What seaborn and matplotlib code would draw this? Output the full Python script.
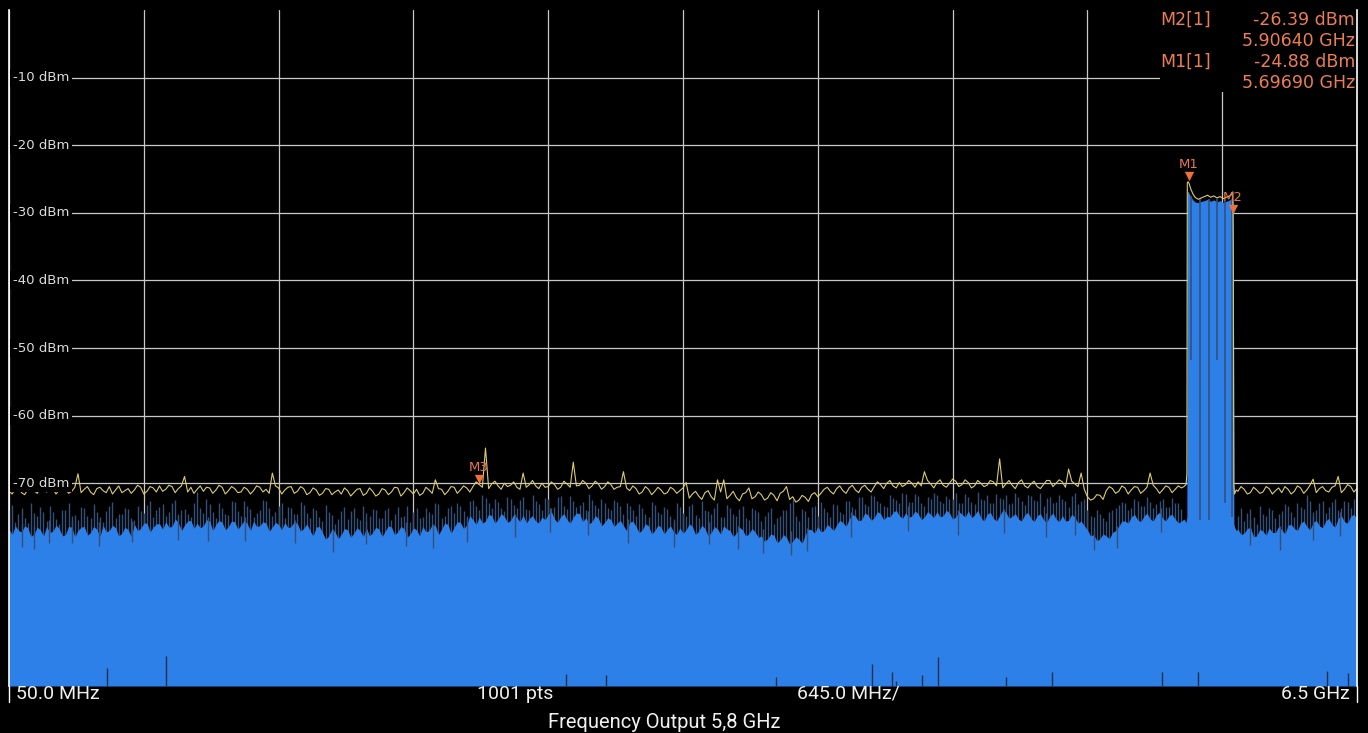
import numpy as np
import seaborn as sns
import matplotlib.pyplot as plt
from matplotlib.patches import Rectangle

# sweep grid (MHz): 30 MHz points plus the points half way between them,
# on both sides of the signal band
freq_left = np.linspace(50, 5660, 188)
freq_left_mid = np.linspace(65, 5645, 187)
freq_right = np.linspace(5930, 6500, 20)
freq_right_mid = np.linspace(5945, 6485, 19)

# yellow trace (dBm)
yellow_left = [
    -71.2, -70.8, -71.4, -70.9, -71.1, -70.6, -71.3, -70.9, -71.0, -70.7, -71.2, -68.6,
    -70.9, -71.3, -70.8, -71.1, -70.5, -71.0, -71.4, -70.8, -71.0, -70.6, -71.2, -70.7,
    -70.4, -70.9, -70.5, -70.8, -69.0, -70.6, -70.9, -71.2, -70.7, -71.0, -70.6, -71.1,
    -70.8, -71.3, -70.9, -71.1, -70.6, -70.9, -68.5, -70.7, -71.0, -70.5, -71.2, -70.8,
    -71.4, -71.0, -71.5, -70.9, -71.3, -71.6, -71.1, -71.4, -70.8, -71.5, -71.2, -71.6,
    -71.0, -71.3, -70.7, -71.4, -71.1, -70.9, -71.5, -71.0, -69.5, -70.9, -71.2, -70.6,
    -71.0, -70.7, -70.5, -70.2, -64.8, -70.1, -70.4, -70.0, -70.3, -70.6, -68.5, -70.2,
    -70.4, -70.0, -70.5, -70.2, -70.6, -70.1, -66.9, -70.3, -70.0, -70.4, -70.1, -70.5,
    -70.2, -70.6, -68.3, -71.1, -70.8, -71.3, -70.9, -71.2, -71.0, -71.4, -70.9, -71.1,
    -69.9, -71.6, -71.9, -71.4, -72.0, -69.5, -69.5, -71.8, -72.1, -71.6, -70.7, -72.0,
    -71.7, -72.2, -71.8, -71.5, -70.5, -72.0, -72.5, -72.1, -71.7, -72.0, -70.9, -71.2,
    -70.8, -71.1, -70.7, -71.0, -70.6, -70.9, -70.5, -70.2, -70.0, -70.4, -69.9, -70.2,
    -70.0, -69.8, -68.3, -70.1, -69.9, -70.3, -70.0, -69.7, -70.2, -69.9, -70.4, -70.0,
    -70.3, -69.8, -66.4, -70.1, -70.3, -69.9, -70.4, -70.1, -70.5, -70.2, -69.6, -70.0,
    -69.8, -67.9, -70.1, -68.5, -72.0, -72.3, -71.8, -71.1, -70.8, -71.2, -70.7, -71.0,
    -70.6, -71.1, -68.5, -70.8, -71.0, -70.6, -70.9, -70.7,
]
yellow_left_mid = [
    -71.6, -70.5, -71.7, -70.4, -71.5, -71.0, -70.5, -71.6, -70.4, -71.5, -70.6, -71.4,
    -70.5, -71.7, -70.6, -71.4, -71.6, -70.4, -71.1, -71.5, -70.3, -71.6, -70.5, -71.3,
    -71.2, -70.3, -71.4, -70.4, -71.3, -71.5, -70.4, -70.6, -71.5, -70.3, -71.6, -70.5,
    -71.4, -70.6, -71.6, -70.4, -71.3, -71.5, -70.4, -71.6, -70.6, -71.5, -70.5, -71.7,
    -70.7, -71.8, -70.8, -71.7, -71.0, -70.7, -71.9, -70.9, -71.8, -70.7, -71.9, -70.8,
    -71.7, -70.6, -71.9, -70.7, -71.6, -71.8, -70.6, -71.5, -70.8, -71.7, -70.5, -71.5,
    -70.4, -71.3, -69.8, -70.6, -70.8, -69.7, -70.9, -70.5, -69.8, -70.9, -70.6, -69.6,
    -70.8, -70.6, -69.8, -70.9, -69.7, -70.6, -70.4, -69.6, -70.8, -69.7, -70.9, -69.8,
    -70.9, -70.5, -70.7, -70.4, -71.6, -70.5, -71.7, -70.6, -71.6, -70.6, -71.5, -70.7,
    -72.2, -71.2, -72.4, -71.1, -72.5, -71.3, -72.3, -71.2, -72.6, -71.4, -72.3, -71.3,
    -72.5, -71.4, -72.6, -71.2, -72.4, -72.8, -71.8, -72.7, -71.4, -71.5, -70.6, -71.6,
    -70.4, -71.5, -70.3, -71.4, -70.3, -71.3, -69.8, -70.8, -69.6, -70.7, -70.5, -69.6,
    -70.6, -70.4, -69.6, -70.7, -69.5, -70.6, -69.4, -70.5, -69.5, -70.7, -69.6, -70.5,
    -69.6, -70.4, -70.7, -69.6, -70.8, -69.5, -70.7, -69.7, -70.8, -69.6, -70.5, -69.5,
    -70.6, -69.7, -70.5, -70.9, -72.5, -71.7, -72.4, -70.5, -71.5, -70.4, -71.6, -70.5,
    -71.5, -70.6, -70.3, -71.5, -70.4, -71.4, -70.4,
]
yellow_right = [
    -71.2, -70.9, -71.4, -71.0, -71.3, -70.8, -71.1, -71.4, -70.9, -71.2,
    -70.7, -71.0, -69.4, -70.8, -71.1, -70.6, -69.0, -70.9, -70.5, -70.8,
]
yellow_right_mid = [
    -70.5, -71.6, -70.6, -71.5, -70.5, -71.6, -70.7, -70.5, -71.6, -70.4,
    -71.5, -70.3, -71.4, -70.5, -71.3, -70.4, -71.4, -70.2, -71.3,
]

# blue trace: solid level (fill) ...
blue_left = [
    -76.8, -76.3, -77.2, -76.6, -77.5, -76.9, -76.4, -77.1, -76.7, -77.6, -76.5, -77.0,
    -76.4, -77.3, -76.8, -76.2, -77.0, -76.6, -77.4, -76.9, -76.1, -76.7, -75.9, -76.5,
    -76.0, -75.7, -76.4, -75.8, -76.2, -75.5, -75.9, -76.3, -75.6, -76.1, -75.8, -76.4,
    -75.7, -76.2, -76.0, -75.6, -76.3, -75.9, -76.5, -76.1, -75.8, -76.4, -76.0, -76.7,
    -77.0, -76.5, -77.3, -77.8, -77.2, -77.6, -76.9, -77.4, -77.0, -76.6, -77.3, -76.8,
    -77.1, -76.5, -77.2, -76.7, -77.5, -76.9, -76.4, -77.0, -76.3, -76.8, -76.1, -76.5,
    -75.8, -76.2, -75.4, -75.0, -75.6, -74.8, -75.3, -74.9, -75.5, -75.1, -74.7, -75.2,
    -75.6, -75.0, -74.6, -75.3, -74.9, -75.4, -75.0, -74.5, -75.1, -75.7, -75.2, -75.8,
    -75.4, -75.9, -76.3, -75.8, -76.4, -76.9, -76.3, -77.0, -76.5, -76.8, -77.2, -76.6,
    -76.9, -76.4, -77.1, -76.7, -77.3, -76.8, -76.3, -77.0, -77.4, -76.9, -77.5, -77.2,
    -77.8, -78.2, -77.7, -78.4, -78.0, -78.6, -78.3, -77.6, -76.9, -76.4, -77.0, -76.5,
    -76.2, -75.8, -75.3, -74.9, -75.4, -74.7, -75.1, -74.5, -74.9, -74.3, -74.8, -74.4,
    -74.9, -74.5, -75.0, -74.6, -74.2, -74.8, -74.4, -75.0, -74.6, -74.1, -74.7, -75.1,
    -74.6, -75.2, -74.8, -74.3, -74.9, -75.3, -74.7, -75.2, -74.8, -75.4, -74.9, -75.3,
    -74.8, -75.5, -75.0, -75.6, -76.9, -77.6, -78.2, -77.8, -77.3, -76.4, -75.6, -75.0,
    -75.4, -74.9, -75.3, -74.7, -75.2, -74.8, -75.3, -75.6,
]
blue_left_mid = [
    -77.6, -77.0, -76.3, -77.9, -76.5, -77.8, -77.3, -76.2, -77.8, -76.4, -77.9, -76.5,
    -77.7, -76.4, -77.9, -77.2, -76.2, -77.8, -76.5, -77.9, -77.0, -75.9, -77.2, -76.0,
    -76.8, -76.5, -75.3, -77.0, -75.6, -76.7, -76.6, -75.4, -77.0, -75.5, -76.9, -75.6,
    -76.8, -75.5, -77.0, -76.4, -75.7, -77.1, -75.8, -76.9, -76.6, -75.7, -77.1, -76.0,
    -77.8, -76.4, -78.3, -76.8, -78.2, -76.7, -78.0, -76.6, -77.9, -77.8, -76.5, -77.9,
    -76.3, -77.6, -76.4, -78.0, -76.6, -77.8, -77.2, -76.1, -77.6, -75.9, -77.4, -75.7,
    -76.7, -74.8, -76.1, -75.9, -74.6, -75.9, -74.5, -75.8, -74.6, -75.7, -75.9, -74.8,
    -75.9, -75.4, -74.2, -75.8, -74.5, -75.9, -74.4, -75.7, -76.0, -74.8, -76.3, -75.1,
    -76.4, -75.5, -77.0, -75.6, -77.3, -76.0, -77.5, -76.2, -77.5, -76.3, -77.6, -77.4,
    -76.0, -77.6, -76.2, -77.8, -76.4, -77.5, -76.8, -77.9, -76.5, -77.8, -76.7, -78.0,
    -78.6, -77.5, -78.8, -77.6, -79.0, -77.9, -78.9, -76.8, -77.4, -77.2, -76.1, -77.0,
    -75.5, -76.4, -74.6, -75.6, -74.4, -75.5, -74.2, -75.4, -75.0, -74.0, -75.2, -75.0,
    -74.1, -75.4, -74.2, -75.1, -75.0, -74.0, -75.3, -74.2, -75.0, -75.1, -74.0, -75.6,
    -74.3, -75.6, -74.0, -75.2, -74.5, -75.6, -74.3, -75.7, -74.5, -75.8, -74.4, -75.7,
    -75.6, -74.6, -75.9, -76.3, -77.8, -78.5, -77.5, -78.2, -77.0, -75.6, -75.9, -74.6,
    -75.7, -74.4, -75.6, -74.3, -75.6, -74.6, -75.9,
]
blue_right = [
    -76.8, -77.4, -76.5, -77.8, -77.1, -76.6, -77.3, -76.9, -76.2, -76.7,
    -75.9, -76.4, -75.8, -76.3, -75.6, -76.1, -75.2, -75.7, -74.9, -75.3,
]
blue_right_mid = [
    -77.6, -76.7, -77.9, -76.8, -77.7, -77.3, -76.4, -77.5, -76.1, -77.0,
    -75.6, -76.9, -75.5, -76.6, -75.2, -76.5, -74.8, -75.9, -74.6,
]

# ... and the peaks above it, drawn as thin dark lines
peak_left = [
    -74.0, -75.8, -73.6, -75.9, -74.4, -73.5, -75.6, -74.2, -76.0, -73.9, -74.8, -75.5,
    -73.7, -75.1, -74.3, -75.7, -73.4, -75.2, -74.6, -73.8, -75.4, -74.1, -73.2, -75.0,
    -73.5, -74.9, -72.9, -74.6, -73.8, -75.0, -71.3, -74.4, -73.1, -75.2, -73.6, -74.7,
    -72.8, -74.9, -73.4, -75.0, -73.9, -72.7, -74.8, -73.3, -75.1, -73.7, -74.5, -73.2,
    -75.2, -73.9, -75.6, -74.3, -76.0, -74.1, -75.3, -73.6, -75.5, -74.4, -73.8, -75.2,
    -74.0, -75.4, -73.5, -74.9, -75.8, -73.7, -75.0, -74.2, -72.9, -75.1, -73.6, -74.4,
    -73.3, -74.8, -72.5, -73.9, -72.2, -73.6, -72.8, -74.1, -72.4, -73.7, -72.0, -73.9,
    -72.7, -74.0, -72.3, -73.5, -71.9, -73.8, -72.6, -73.2, -74.0, -72.5, -73.6, -72.9,
    -73.9, -72.8, -74.5, -73.3, -74.9, -73.6, -75.0, -73.2, -74.6, -73.8, -75.3, -73.5,
    -74.8, -73.1, -75.2, -73.9, -74.5, -72.9, -75.0, -73.6, -74.8, -73.4, -75.5, -74.0,
    -75.6, -74.3, -76.0, -74.8, -73.9, -72.3, -75.6, -74.1, -73.5, -74.9, -73.7, -75.0,
    -73.2, -74.5, -72.6, -73.8, -72.1, -73.4, -71.9, -72.9, -73.5, -72.2, -73.0, -71.6,
    -72.8, -71.9, -73.3, -72.4, -71.8, -73.0, -72.3, -71.5, -72.9, -72.0, -73.1, -72.4,
    -71.7, -73.0, -72.2, -71.8, -72.9, -72.1, -73.2, -71.9, -72.6, -73.4, -72.0, -72.8,
    -72.3, -73.5, -71.4, -72.7, -73.9, -75.0, -74.6, -75.6, -74.0, -73.2, -72.9, -73.6,
    -72.6, -73.4, -72.8, -73.1, -72.4, -73.5, -72.9, -73.8,
]
peak_left_mid = [
    -73.2, -74.6, -75.1, -73.0, -74.9, -74.2, -73.4, -75.3, -74.0, -72.9, -74.7, -73.5,
    -74.8, -73.1, -75.0, -74.1, -72.8, -74.5, -73.7, -75.2, -73.3, -74.4, -72.6, -74.0,
    -73.1, -74.3, -72.5, -73.9, -74.6, -72.9, -73.6, -72.4, -74.2, -73.0, -74.5, -72.7,
    -74.1, -72.6, -73.8, -74.4, -72.5, -73.7, -74.2, -72.9, -73.5, -74.6, -72.8, -74.4,
    -73.6, -75.0, -73.2, -74.7, -75.3, -73.5, -74.1, -75.2, -73.4, -74.8, -73.9, -75.1,
    -73.7, -74.6, -75.0, -73.3, -74.3, -75.1, -73.6, -74.5, -73.1, -74.8, -73.4, -72.9,
    -74.1, -72.6, -73.4, -71.8, -73.0, -72.3, -73.7, -72.0, -73.2, -72.5, -73.8, -71.7,
    -73.1, -72.2, -73.6, -72.0, -73.3, -71.9, -73.5, -72.8, -71.6, -73.2, -72.4, -73.7,
    -72.5, -73.4, -72.9, -74.0, -73.1, -74.6, -72.8, -74.2, -73.5, -74.9, -73.0, -74.4,
    -73.3, -74.7, -72.6, -74.1, -73.6, -75.0, -73.2, -74.5, -73.8, -75.1, -73.7, -74.3,
    -74.9, -73.6, -75.2, -74.0, -72.9, -74.8, -73.8, -75.0, -73.4, -72.8, -74.2, -73.1,
    -74.3, -72.7, -73.5, -72.0, -73.1, -71.8, -72.6, -73.3, -71.7, -72.5, -71.5, -72.8,
    -71.6, -72.9, -72.1, -71.4, -72.7, -71.9, -72.4, -73.0, -71.6, -72.8, -71.3, -72.5,
    -72.9, -71.6, -72.3, -73.1, -71.5, -72.7, -71.8, -72.5, -71.4, -72.2, -73.0, -71.7,
    -72.6, -71.9, -73.1, -72.4, -74.8, -73.9, -75.2, -74.3, -73.6, -72.8, -73.9, -72.4,
    -73.3, -72.1, -73.7, -72.6, -73.5, -72.2, -73.0,
]
peak_right = [
    -74.9, -75.6, -73.8, -76.0, -74.5, -73.6, -75.2, -74.1, -73.4, -75.0,
    -73.5, -71.7, -74.2, -73.0, -74.4, -72.8, -73.9, -72.6, -73.7, -72.9,
]
peak_right_mid = [
    -73.6, -74.4, -75.0, -73.3, -74.8, -73.9, -74.6, -73.1, -74.2, -72.9,
    -73.8, -72.6, -74.0, -72.7, -73.5, -72.3, -73.6, -72.8, -72.4,
]

# signal band 5.69 - 5.91 GHz
band_freq = [5672, 5682, 5686, 5688, 5692, 5697, 5705, 5715, 5725, 5740, 5755, 5770, 5785,
             5800, 5815, 5830, 5845, 5860, 5875, 5890, 5900, 5906, 5908, 5911, 5914, 5922]
band_yellow = [-70.5, -70.2, -68.6, -25.6, -25.4, -25.7, -26.5, -27.2, -27.7, -28.0, -27.8,
               -27.6, -27.4, -27.7, -27.5, -27.8, -27.6, -27.9, -27.7, -27.5, -27.3, -26.9,
               -36.5, -70.2, -71.6, -71.0]
band_blue = [-75.3, -75.8, -75.0, -27.0, -26.8, -27.2, -27.6, -28.1, -28.4, -28.5, -28.3,
             -28.2, -28.0, -28.3, -28.1, -28.4, -28.2, -28.5, -28.3, -28.1, -28.0, -28.2,
             -28.6, -76.0, -76.5, -77.0]
band_dip_freq = [5706, 5749, 5792, 5830, 5869, 5902]
band_dip_lo = [-51.8, -75.4, -75.4, -51.8, -73.0, -75.0]
band_dip_hi = [-27.5, -28.0, -28.0, -28.0, -28.2, -28.0]

# short dips of the blue trace into the fill
dip_freq = [110, 170, 240, 350, 480, 640, 860, 1000, 1180, 1420, 1600, 1760, 1950, 2080,
            2240, 2470, 2640, 2820, 3010, 3230, 3400, 3540, 3660, 3790, 3870, 4080, 4350,
            4590, 4810, 5010, 5150, 5240, 5350, 5560, 5990, 6130, 6290, 6420]
dip_lo = [-79.4, -79.8, -78.9, -78.8, -79.3, -78.7, -78.4, -78.6, -78.5, -78.9, -80.2, -79.0,
          -79.3, -79.6, -78.7, -77.9, -77.2, -77.6, -78.8, -79.4, -79.0, -79.8, -80.3, -80.6,
          -80.0, -77.9, -77.0, -77.6, -77.4, -78.0, -77.7, -79.9, -79.6, -77.2, -79.1, -79.9,
          -78.4, -77.8]
dip_hi = [-76.0, -76.3, -75.4, -75.5, -75.8, -75.6, -74.8, -75.0, -75.0, -75.4, -76.8, -75.6,
          -75.7, -76.0, -75.2, -74.5, -73.6, -74.1, -75.3, -75.8, -75.7, -76.4, -76.8, -77.0,
          -76.6, -74.3, -73.4, -74.0, -73.8, -74.4, -74.0, -76.6, -76.3, -73.7, -75.5, -76.3,
          -74.8, -74.2]

# deep drops near the bottom of the screen
low_freq = [519, 801, 2715, 2906, 3720, 4179, 4275, 4294, 4419, 4495, 4820, 5040, 5567,
            5739, 6357, 6457]
low_top = [-97.3, -95.6, -98.2, -98.3, -98.6, -96.7, -97.9, -99.3, -98.4, -95.7, -98.6,
           -97.9, -97.9, -97.9, -97.8, -98.1]

# markers
marker_names = ["M1", "M2", "M3"]
marker_freq = [5696.9, 5906.4, 2299.0]
marker_shown = [-24.6, -29.4, -69.4]

readout = [("M2[1]", "-26.39 dBm", "5.90640 GHz"),
           ("M1[1]", "-24.88 dBm", "5.69690 GHz")]

ref_levels = [-10, -20, -30, -40, -50, -60, -70]
bottom_labels = ["50.0 MHz", "1001 pts", "645.0 MHz/", "6.5 GHz"]


def interleave(a, b):
    out = np.empty(len(a) + len(b))
    out[0::2] = a
    out[1::2] = b
    return out


sns.set_theme(style="dark", rc={"axes.facecolor": "black", "figure.facecolor": "black"})
plt.rcParams["font.family"] = ["DejaVu Sans"]

W, H = 1368, 733
fig = plt.figure(figsize=(W / 100, H / 100), dpi=100)
ax = fig.add_axes([9 / W, (H - 686) / H, 1348 / W, 676 / H])
ax.set_facecolor("black")

freq_all = np.concatenate([interleave(freq_left, freq_left_mid), band_freq,
                           interleave(freq_right, freq_right_mid)])
yellow_all = np.concatenate([interleave(yellow_left, yellow_left_mid), band_yellow,
                             interleave(yellow_right, yellow_right_mid)])
blue_all = np.concatenate([interleave(blue_left, blue_left_mid), band_blue,
                           interleave(blue_right, blue_right_mid)])

blue = "#2d80e8"
dark = "#34507a"

for fx, py in [(freq_left, peak_left), (freq_left_mid, peak_left_mid),
               (freq_right, peak_right), (freq_right_mid, peak_right_mid)]:
    ax.vlines(fx, -100, py, color=dark, lw=1.0, zorder=1.5)
ax.fill_between(freq_all, -100, blue_all, color=blue, lw=0, zorder=2)
ax.vlines(dip_freq, dip_lo, dip_hi, color=dark, lw=1.0, zorder=3)
ax.vlines(band_dip_freq, band_dip_lo, band_dip_hi, color=dark, lw=1.2, zorder=3)
ax.vlines(low_freq, -100, low_top, color="#1c2f4f", lw=1.0, zorder=3)

sns.lineplot(x=freq_all, y=yellow_all, ax=ax, color="#dccb6c", lw=0.8, zorder=4,
             errorbar=None, sort=False)

ax.set_xlim(50, 6500)
ax.set_ylim(-100, 0)
ax.set_xticks(np.linspace(50, 6500, 11))
ax.set_yticks(np.arange(-90, 0, 10))
ax.grid(True, color="#c8c8c8", lw=0.9)
ax.set_axisbelow(True)
ax.tick_params(length=0, labelbottom=False, labelleft=False)
ax.set_xlabel("")
ax.set_ylabel("")
for side in ["top", "bottom"]:
    ax.spines[side].set_visible(False)
for side in ["left", "right"]:
    ax.spines[side].set_color("white")
    ax.spines[side].set_linewidth(1.2)
    ax.spines[side].set_zorder(6)

for lvl in ref_levels:
    ax.text(4 / 1348, lvl, f"{lvl} dBm", transform=ax.get_yaxis_transform(), ha="left",
            va="center", fontsize=9.5, color="#dcdcdc", zorder=5,
            bbox=dict(facecolor="black", edgecolor="none", pad=1.8))

# markers
orange = "#f0703a"
ax.scatter(marker_freq, marker_shown, marker="v", s=45, color=orange, lw=0, zorder=6)
for name, f, lv in zip(marker_names, marker_freq, marker_shown):
    ax.annotate(name, (f, lv), xytext=(0, 3.5), textcoords="offset points", ha="center",
                va="bottom", fontsize=9.5, color="#e87550", zorder=6)

# readout box in the top right corner
ax.add_patch(Rectangle((5557, -12.1), 943, 12.1, facecolor="black", edgecolor="none", zorder=5))
rows_y = [20, 41, 62, 83]
k = 0
for name, level, freq in readout:
    fig.text(1160 / W, 1 - rows_y[k] / H, name, ha="left", va="center", fontsize=12.5,
             color="#ee7d52")
    fig.text(1355 / W, 1 - rows_y[k] / H, level, ha="right", va="center", fontsize=12.5,
             color="#ee7d52")
    fig.text(1355 / W, 1 - rows_y[k + 1] / H, freq, ha="right", va="center", fontsize=12.5,
             color="#ee7d52")
    k += 2

# frame ends below the trace area
for x in [9, 1357]:
    fig.add_artist(plt.Line2D([x / W, x / W], [(H - 702) / H, (H - 686) / H],
                              transform=fig.transFigure, color="white", lw=1.0))

fig.text(16 / W, 1 - 694 / H, bottom_labels[0], ha="left", va="center", fontsize=14,
         color="#f0f0f0", family=["Roboto", "DejaVu Sans"])
fig.text(515 / W, 1 - 694 / H, bottom_labels[1], ha="center", va="center", fontsize=14,
         color="#f0f0f0", family=["Roboto", "DejaVu Sans"])
fig.text(848 / W, 1 - 694 / H, bottom_labels[2], ha="center", va="center", fontsize=14,
         color="#f0f0f0", family=["Roboto", "DejaVu Sans"])
fig.text(1350 / W, 1 - 694 / H, bottom_labels[3], ha="right", va="center", fontsize=14,
         color="#f0f0f0", family=["Roboto", "DejaVu Sans"])
fig.text(664 / W, 1 - 722 / H, "Frequency Output 5,8 GHz", ha="center", va="center",
         fontsize=14.5, color="#f0f0f0", family=["Roboto", "DejaVu Sans"])

fig.savefig("out.png", dpi=100, facecolor="black")
